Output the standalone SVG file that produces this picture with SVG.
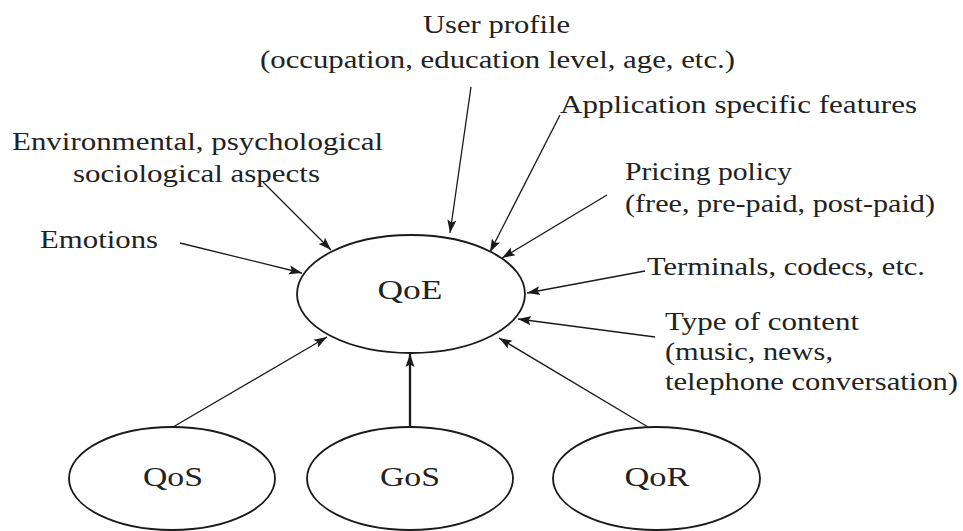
<svg xmlns="http://www.w3.org/2000/svg" width="963" height="531" viewBox="0 0 963 531" font-family="Liberation Serif, Tinos, Times New Roman, Noto Serif, DejaVu Serif, serif">
  <style>
    .lbl { font-size: 26px; fill: #222; }
    .node-text { font-size: 28px; fill: #222; text-anchor: middle; }
    .node-shape { fill: #fff; stroke: #1a1a1a; stroke-width: 1.8; }
    .conn { stroke: #1a1a1a; stroke-width: 1.3; fill: none; marker-end: url(#head); }
    .conn.bold { stroke-width: 2.3; }
  </style>
  <defs>
    <marker id="head" markerUnits="userSpaceOnUse" markerWidth="14" markerHeight="10" refX="13" refY="5" orient="auto">
      <path d="M0,0.5 L13,5 L0,9.5 L2.5,5 Z" fill="#1a1a1a"/>
    </marker>
  </defs>
  <rect width="963" height="531" fill="#fff"/>

  <!-- influence factors and their arrows into QoE -->
  <g id="connectors">
    <line class="conn" x1="471" y1="87" x2="450" y2="233"/>
    <line class="conn" x1="560" y1="115" x2="490" y2="252"/>
    <line class="conn" x1="607" y1="195" x2="502" y2="258"/>
    <line class="conn" x1="645" y1="271" x2="527" y2="293"/>
    <line class="conn" x1="655" y1="337" x2="518" y2="319"/>
    <line class="conn" x1="263" y1="182" x2="331" y2="250"/>
    <line class="conn" x1="180" y1="243" x2="302" y2="273"/>
    <line class="conn" x1="173" y1="427" x2="327" y2="337"/>
    <line class="conn bold" x1="410" y1="427" x2="410" y2="354"/>
    <line class="conn" x1="648" y1="427" x2="499" y2="338"/>
  </g>

  <g id="qoe">
    <ellipse class="node-shape" cx="411" cy="294" rx="114" ry="59"/>
    <text class="node-text" font-family="Liberation Serif, serif" x="410" y="299" textLength="65" lengthAdjust="spacingAndGlyphs">QoE</text>
  </g>
  <g id="qos">
    <ellipse class="node-shape" cx="172" cy="478.5" rx="103" ry="51.5"/>
    <text class="node-text" font-family="Liberation Serif, serif" x="173" y="486" textLength="60" lengthAdjust="spacingAndGlyphs">QoS</text>
  </g>
  <g id="gos">
    <ellipse class="node-shape" cx="410" cy="478.5" rx="103" ry="51.5"/>
    <text class="node-text" font-family="Liberation Serif, serif" x="410" y="486" textLength="60" lengthAdjust="spacingAndGlyphs">GoS</text>
  </g>
  <g id="qor">
    <ellipse class="node-shape" cx="656.5" cy="478.5" rx="103.5" ry="51.5"/>
    <text class="node-text" font-family="Liberation Serif, serif" x="657" y="486" textLength="65" lengthAdjust="spacingAndGlyphs">QoR</text>
  </g>

  <g id="user-profile">
    <text class="lbl" x="423" y="33" textLength="147" lengthAdjust="spacingAndGlyphs">User profile</text>
    <text class="lbl" x="260" y="68" textLength="475" lengthAdjust="spacingAndGlyphs">(occupation, education level, age, etc.)</text>
  </g>
  <g id="application">
    <text class="lbl" x="560" y="113" textLength="357" lengthAdjust="spacingAndGlyphs">Application specific features</text>
  </g>
  <g id="environment">
    <text class="lbl" x="12" y="150" textLength="371" lengthAdjust="spacingAndGlyphs">Environmental, psychological</text>
    <text class="lbl" x="73" y="182" textLength="247" lengthAdjust="spacingAndGlyphs">sociological aspects</text>
  </g>
  <g id="emotions">
    <text class="lbl" x="40" y="248" textLength="118" lengthAdjust="spacingAndGlyphs">Emotions</text>
  </g>
  <g id="pricing">
    <text class="lbl" x="625" y="180" textLength="167" lengthAdjust="spacingAndGlyphs">Pricing policy</text>
    <text class="lbl" x="625" y="212" textLength="310" lengthAdjust="spacingAndGlyphs">(free, pre-paid, post-paid)</text>
  </g>
  <g id="terminals">
    <text class="lbl" x="647" y="275" textLength="278" lengthAdjust="spacingAndGlyphs">Terminals, codecs, etc.</text>
  </g>
  <g id="content-type">
    <text class="lbl" x="665" y="330" textLength="194" lengthAdjust="spacingAndGlyphs">Type of content</text>
    <text class="lbl" x="665" y="360" textLength="168" lengthAdjust="spacingAndGlyphs">(music, news,</text>
    <text class="lbl" x="665" y="390" textLength="293" lengthAdjust="spacingAndGlyphs">telephone conversation)</text>
  </g>
</svg>
